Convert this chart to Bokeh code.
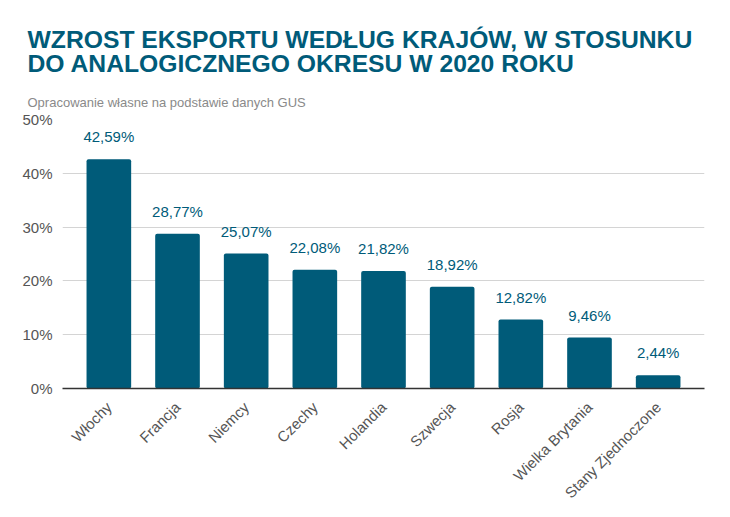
from math import pi

from bokeh.core.properties import value
from bokeh.embed import file_html
from bokeh.models import ColumnDataSource, LabelSet, PrintfTickFormatter, Range1d, Title, FixedTicker
from bokeh.plotting import figure
from bokeh.resources import INLINE

# Export growth by country, percent
countries = ["Włochy", "Francja", "Niemcy", "Czechy", "Holandia",
             "Szwecja", "Rosja", "Wielka Brytania", "Stany Zjednoczone"]
growth = [42.59, 28.77, 25.07, 22.08, 21.82, 18.92, 12.82, 9.46, 2.44]
y_ticks = [0, 10, 20, 30, 40, 50]

title_lines = ["WZROST EKSPORTU WEDŁUG KRAJÓW, W STOSUNKU",
               "DO ANALOGICZNEGO OKRESU W 2020 ROKU"]
subtitle = "Opracowanie własne na podstawie danych GUS"

TEAL = "#005b79"
GREY = "#555555"
FONT = "Liberation Sans"

labels = [f"{v:.2f}".replace(".", ",") + "%" for v in growth]
source = ColumnDataSource(data=dict(country=countries, growth=growth, label=labels))

p = figure(
    x_range=countries,
    y_range=Range1d(0, 50),
    width=730,
    height=517,
    output_backend="svg",
    toolbar_location=None,
    min_border_left=62,
    min_border_right=26,
    min_border_top=119,
    min_border_bottom=129,
)
p.title = None

# Titles stack outward: add the one nearest the plot first
p.add_layout(Title(text=subtitle, text_font=FONT, text_font_size="13px",
                   text_font_style="normal", text_color="#8a8a8a",
                   align="left", offset=-35, standoff=20), "above")
p.add_layout(Title(text="\n".join(title_lines), text_font=FONT,
                   text_font_size="24.7px", text_line_height=0.9,
                   text_font_style="bold", text_color=TEAL,
                   align="left", offset=-35, standoff=11), "above")

p.vbar(x="country", top="growth", width=0.65, source=source,
       fill_color=TEAL, line_color=None, border_radius=2)

p.add_layout(LabelSet(x="country", y="growth", text="label", source=source,
                      text_align="center", text_baseline="bottom", y_offset=14,
                      text_font=value(FONT), text_font_size="15px",
                      text_color=TEAL))

p.outline_line_color = None
p.background_fill_color = "white"
p.border_fill_color = "white"

p.xgrid.grid_line_color = None
p.ygrid.grid_line_color = "#d4d4d4"
p.ygrid.grid_line_width = 1

p.yaxis.ticker = FixedTicker(ticks=y_ticks)
p.yaxis.formatter = PrintfTickFormatter(format="%d%%")
p.yaxis.axis_line_color = None
p.yaxis.major_tick_line_color = None
p.yaxis.minor_tick_line_color = None
p.yaxis.major_label_text_font = FONT
p.yaxis.major_label_text_font_size = "15px"
p.yaxis.major_label_text_color = GREY
p.yaxis.major_label_standoff = 4

p.xaxis.axis_line_color = "#333333"
p.xaxis.axis_line_width = 1.5
p.xaxis.major_tick_line_color = None
p.xaxis.minor_tick_line_color = None
p.xaxis.major_label_orientation = pi / 4
p.xaxis.major_label_text_font = FONT
p.xaxis.major_label_text_font_size = "15px"
p.xaxis.major_label_text_color = GREY
p.xaxis.major_label_standoff = 10
p.x_range.range_padding = 0.175
p.x_range.range_padding_units = "absolute"

open("out.html", "w").write(file_html(p, INLINE))
